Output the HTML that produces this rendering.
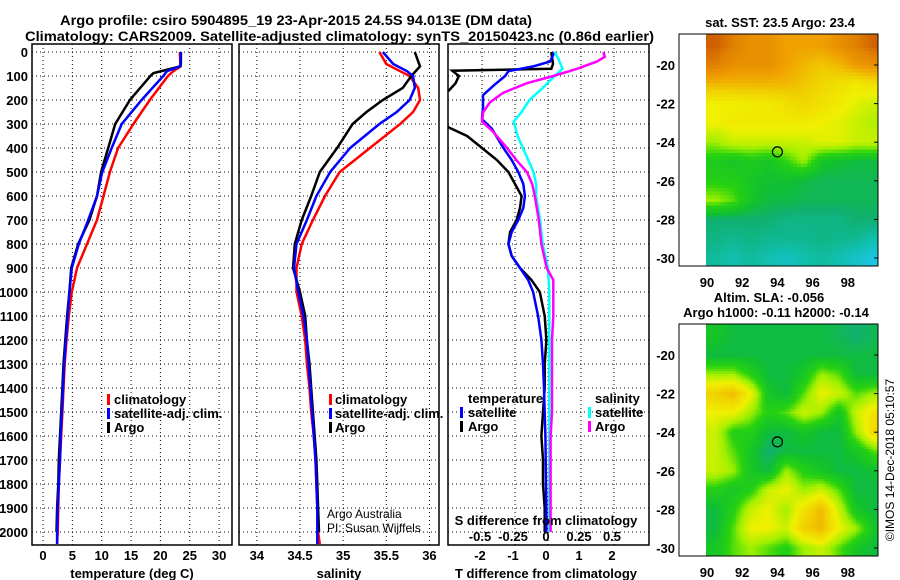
<!DOCTYPE html>
<html><head><meta charset="utf-8">
<style>
html,body{margin:0;padding:0;background:#fff;}
svg{display:block;font-family:"Liberation Sans",sans-serif;}
.b{font-weight:bold;font-size:13px;}
.t{font-weight:bold;font-size:14px;}
</style></head>
<body>
<svg id="chart" width="900" height="580" viewBox="0 0 900 580" xmlns="http://www.w3.org/2000/svg">
<defs>
<clipPath id="c1"><rect x="32" y="44" width="200" height="501"/></clipPath>
<clipPath id="c2"><rect x="239" y="44" width="200" height="501"/></clipPath>
<clipPath id="c3"><rect x="448" y="44" width="201" height="501"/></clipPath>
</defs>
<text class="t" x="60" y="25" textLength="472" lengthAdjust="spacingAndGlyphs">Argo profile: csiro 5904895_19 23-Apr-2015 24.5S 94.013E (DM data)</text>
<text class="t" x="25" y="41" textLength="629" lengthAdjust="spacingAndGlyphs">Climatology: CARS2009. Satellite-adjusted climatology: synTS_20150423.nc (0.86d earlier)</text>
<g id="g"></g>
</svg>
<script>
// ---- data ----
const depthT = [0,50,60,80,100,200,300,400,500,600,700,800,900,1000,1100,1200,1300,1400,1500,1600,1700,1800,1900,2000,2050];
const tempClim = [23.3,23.4,23.4,22.2,21.3,18.2,15.4,12.8,11.4,10.3,9.2,7.5,5.8,4.9,4.4,4.0,3.7,3.5,3.3,3.1,2.9,2.7,2.6,2.5,2.4];
const tempSat = [23.5,23.4,23.3,21.1,20.5,16.8,13.4,11.7,10.1,9.2,7.7,6.1,4.9,4.5,4.2,3.9,3.6,3.4,3.2,3.0,2.9,2.7,2.5,2.4,2.4];
const depthArgo = [0,50,60,88,100,200,300,400,500,600,700,800,900,1000,1100,1200,1300,1400,1500,1600,1700,1800,1900,2000];
const tempArgo = [23.5,23.5,23.4,18.8,18.3,14.8,12.3,11.1,9.9,9.2,7.9,6.0,4.8,4.5,4.1,3.8,3.5,3.3,3.1,2.9,2.7,2.6,2.4,2.3];
const depthS = [0,50,80,100,150,200,250,300,400,500,600,700,800,900,1000,1100,1200,1300,1400,1500,1600,1700,1800,1900,2000,2050];
const salClim = [35.42,35.5,35.66,35.77,35.87,35.89,35.81,35.66,35.31,34.96,34.79,34.65,34.52,34.46,34.46,34.52,34.56,34.58,34.61,34.63,34.66,34.68,34.69,34.7,34.71,34.73];
const salSat = [35.46,35.58,35.74,35.81,35.83,35.77,35.62,35.42,35.08,34.85,34.69,34.58,34.46,34.43,34.48,34.54,34.58,34.6,34.62,34.64,34.66,34.68,34.69,34.7,34.7,34.7];
const depthSA = [0,60,100,150,200,250,300,400,500,600,700,800,900,950,1000,1100,1200,1300,1400,1500,1600,1700,1800,1900,2000];
const salArgo = [35.83,35.89,35.79,35.69,35.46,35.27,35.11,34.93,34.73,34.63,34.52,34.44,34.42,34.46,34.5,34.56,34.58,34.61,34.63,34.65,34.67,34.69,34.7,34.71,34.72];
const depthD = [0,40,60,80,100,140,180,230,280,320,400,450,500,550,600,650,700,750,800,850,900,950,1000,1100,1200,1300,1400,1500,1600,1700,1800,1900,2000];
const tdiffSat = [0.2,0.06,-0.45,-1.2,-1.3,-1.65,-1.97,-1.97,-2.0,-1.7,-1.35,-1.1,-0.9,-0.75,-0.7,-0.75,-0.9,-1.1,-1.2,-1.1,-0.85,-0.6,-0.45,-0.3,-0.2,-0.15,-0.12,-0.1,-0.08,-0.07,-0.06,-0.05,-0.05];
const depthDA = [0,50,70,78,100,130,160,200,280,315,350,400,450,500,550,600,650,700,750,800,850,900,950,1000,1100,1200,1300,1400,1500,1600,1700,1800,1900,2000];
const tdiffArgo = [0.1,0.15,0.1,-2.9,-2.7,-2.8,-3.0,-3.5,-3.3,-3.0,-2.45,-2.0,-1.55,-1.2,-1.0,-0.8,-0.85,-0.95,-1.15,-1.2,-1.1,-0.85,-0.5,-0.25,-0.1,-0.05,-0.1,-0.1,-0.15,-0.2,-0.15,-0.15,-0.1,-0.1];
const depthSD = [0,30,70,100,150,200,250,290,350,400,450,500,550,600,700,800,900,1000,1100,1200,1400,1600,1800,2000];
const sdiffSat = [0.05,0.08,0.11,0.05,-0.04,-0.14,-0.2,-0.26,-0.23,-0.19,-0.15,-0.11,-0.09,-0.09,-0.06,-0.04,0,0.01,0.01,0.01,0.01,0.01,0.01,0.01];
const depthSDA = [0,20,40,70,100,130,170,210,250,290,330,400,450,500,550,600,700,800,900,950,1000,1100,1200,1300,1500,1600,1800,2000];
const sdiffArgo = [0.42,0.43,0.37,0.22,0.04,-0.16,-0.34,-0.44,-0.49,-0.5,-0.42,-0.31,-0.24,-0.16,-0.12,-0.1,-0.07,-0.05,-0.01,0.04,0.04,0.04,0.03,0.03,0.03,0.02,0.02,0.02];
const depthTicks = [0,100,200,300,400,500,600,700,800,900,1000,1100,1200,1300,1400,1500,1600,1700,1800,1900,2000];
const tempTicks = [0,5,10,15,20,25,30];
const salTicks = [34,34.5,35,35.5,36];
const tdTicks = [-2,-1,0,1,2];
const sdTicks = [-0.5,-0.25,0,0.25,0.5];
const sdTickLabels = ["-0.5","-0.25","0","0.25","0.5"];
const lonTicks = [90,92,94,96,98];
const latTicks = [-20,-22,-24,-26,-28,-30];
const sstGrid = [
[0.95,0.9,0.85,0.85,0.8,0.8,0.8,0.85,0.9,0.95],
[0.9,0.85,0.85,0.85,0.8,0.75,0.72,0.75,0.82,0.85],
[0.75,0.75,0.75,0.75,0.75,0.72,0.68,0.65,0.62,0.65],
[0.6,0.6,0.62,0.62,0.65,0.68,0.65,0.62,0.58,0.55],
[0.6,0.62,0.62,0.62,0.62,0.62,0.6,0.58,0.55,0.52],
[0.5,0.55,0.55,0.55,0.55,0.55,0.58,0.58,0.55,0.55],
[0.38,0.35,0.38,0.35,0.42,0.5,0.35,0.32,0.3,0.3],
[0.4,0.4,0.35,0.32,0.32,0.3,0.28,0.28,0.28,0.28],
[0.5,0.45,0.35,0.3,0.3,0.28,0.28,0.28,0.28,0.28],
[0.25,0.25,0.25,0.25,0.22,0.22,0.22,0.22,0.25,0.25],
[0.22,0.2,0.22,0.2,0.2,0.2,0.22,0.2,0.2,0.15],
[0.18,0.15,0.18,0.15,0.12,0.15,0.18,0.15,0.1,0.05]];
const slaGrid = [
[0.35,0.3,0.3,0.3,0.3,0.3,0.3,0.28,0.25,0.28],
[0.3,0.3,0.3,0.3,0.3,0.3,0.3,0.3,0.3,0.3],
[0.5,0.5,0.4,0.3,0.3,0.35,0.5,0.45,0.3,0.3],
[0.7,0.75,0.6,0.35,0.3,0.45,0.6,0.55,0.45,0.5],
[0.6,0.6,0.5,0.4,0.45,0.55,0.5,0.35,0.55,0.65],
[0.55,0.4,0.4,0.3,0.3,0.35,0.3,0.3,0.5,0.68],
[0.55,0.45,0.35,0.25,0.3,0.3,0.3,0.3,0.35,0.45],
[0.55,0.5,0.35,0.3,0.5,0.4,0.35,0.3,0.3,0.32],
[0.4,0.35,0.4,0.55,0.6,0.5,0.55,0.45,0.3,0.3],
[0.3,0.4,0.55,0.6,0.5,0.65,0.75,0.55,0.35,0.3],
[0.3,0.45,0.6,0.6,0.55,0.7,0.75,0.6,0.5,0.35],
[0.35,0.45,0.5,0.45,0.4,0.5,0.55,0.45,0.35,0.3]];
const floatLon = 94.0, floatLat = -24.5;

// ---- helpers ----
const NS="http://www.w3.org/2000/svg";
const G=document.getElementById('g');
function mk(tag,attrs,parent){const e=document.createElementNS(NS,tag);for(const k in attrs)e.setAttribute(k,attrs[k]);(parent||G).appendChild(e);return e;}
const yD = d => 52 + d*0.24;
const xT = t => 43 + t*5.87;
const xS = s => 300 + (s-34.5)*86.3;
const xTD = v => 548 + v*33;
const xSD = v => 548 + v*132;

function panel(x0,x1,name){
  const f=mk('rect',{x:x0,y:44,width:x1-x0,height:501,fill:'none',stroke:'#000','stroke-width':1.5});
  
  
}
function hgrid(x0,x1){
  depthTicks.forEach(d=>{
    const l=mk('line',{x1:x0,x2:x1,y1:yD(d),y2:yD(d),stroke:'#000','stroke-dasharray':'1,3','stroke-width':1});
    
    
  });
}
function vgrid(vals,fx){
  vals.forEach(v=>{
    const l=mk('line',{x1:fx(v),x2:fx(v),y1:44,y2:545,stroke:'#000','stroke-dasharray':'1,3','stroke-width':1});
    
    
  });
}
function line(ds,vs,fx,color,clip,name){
  const pts=ds.map((d,i)=>fx(vs[i]).toFixed(1)+','+yD(d).toFixed(1)).join(' ');
  const p=mk('polyline',{points:pts,fill:'none',stroke:color,'stroke-width':2.5,'clip-path':'url(#'+clip+')'});
  
  
}
function txt(x,y,s,cls,anchor,name,extra){
  const t=mk('text',Object.assign({x:x,y:y,'text-anchor':anchor||'start'},extra||{}));
  if(cls)t.setAttribute('class',cls);
  t.textContent=s;
  
  
  return t;
}
function legBar(x,y,color,name){
  const r=mk('rect',{x:x,y:y-10,width:3,height:11,fill:color});
  
  
}

// ---- panel 1: temperature ----
hgrid(32,232); vgrid(tempTicks,xT);
line(depthT,tempClim,xT,'#ff0000','c1','temp-climatology-line');
line(depthArgo,tempArgo,xT,'#000000','c1','temp-argo-line');
line(depthT,tempSat,xT,'#0000ff','c1','temp-satellite-line');
panel(32,232,'temperature-panel');
depthTicks.forEach(d=>txt(28,yD(d)+5,String(d),'b','end','depth-tick-label'));
tempTicks.forEach(v=>txt(xT(v),560,String(v),'b','middle','temp-tick-label'));
txt(132,578,'temperature (deg C)','b','middle','temp-axis-title');
legBar(107,404,'#ff0000','legend-climatology-swatch'); txt(114,404,'climatology','b','start','legend-climatology');
legBar(107,418,'#0000ff','legend-satellite-swatch'); txt(114,418,'satellite-adj. clim.','b','start','legend-satellite-adj');
legBar(107,432,'#000','legend-argo-swatch'); txt(114,432,'Argo','b','start','legend-argo');

// ---- panel 2: salinity ----
hgrid(239,439); vgrid(salTicks,xS);
line(depthS,salClim,xS,'#ff0000','c2','salinity-climatology-line');
line(depthSA,salArgo,xS,'#000000','c2','salinity-argo-line');
line(depthS,salSat,xS,'#0000ff','c2','salinity-satellite-line');
panel(239,439,'salinity-panel');
salTicks.forEach(v=>txt(xS(v),560,String(v),'b','middle','salinity-tick-label'));
txt(339,578,'salinity','b','middle','salinity-axis-title');
legBar(329,404,'#ff0000','legend2-climatology-swatch'); txt(335,404,'climatology','b','start','legend2-climatology');
legBar(329,418,'#0000ff','legend2-satellite-swatch'); txt(335,418,'satellite-adj. clim.','b','start','legend2-satellite-adj');
legBar(329,432,'#000','legend2-argo-swatch'); txt(335,432,'Argo','b','start','legend2-argo');
txt(327,518,'Argo Australia',null,'start','credit-argo-australia',{'font-size':'12'});
txt(327,532,'PI: Susan Wijffels',null,'start','credit-pi',{'font-size':'12'});

// ---- panel 3: differences ----
hgrid(448,649); vgrid(tdTicks,xTD);
line(depthDA,tdiffArgo,xTD,'#000000','c3','tdiff-argo-line');
line(depthD,tdiffSat,xTD,'#0000ff','c3','tdiff-satellite-line');
line(depthSD,sdiffSat,xSD,'#00ffff','c3','sdiff-satellite-line');
line(depthSDA,sdiffArgo,xSD,'#ff00ff','c3','sdiff-argo-line');
panel(448,649,'difference-panel');
tdTicks.forEach(v=>txt(xTD(v)-2,560,String(v),'b','middle','tdiff-tick-label'));
sdTicks.forEach((v,i)=>txt(xSD(v)-2,541,sdTickLabels[i],'b','middle','sdiff-tick-label'));
txt(546,525,'S difference from climatology','b','middle','sdiff-axis-title');
txt(546,578,'T difference from climatology','b','middle','tdiff-axis-title');
txt(468,403,'temperature','b','start','legend3-temperature-heading');
legBar(460,417,'#0000ff','legend3-tsat-swatch'); txt(468,417,'satellite','b','start','legend3-tsat');
legBar(460,431,'#000','legend3-targo-swatch'); txt(468,431,'Argo','b','start','legend3-targo');
txt(595,403,'salinity','b','start','legend3-salinity-heading');
legBar(588,417,'#00ffff','legend3-ssat-swatch'); txt(595,417,'satellite','b','start','legend3-ssat');
legBar(588,431,'#ff00ff','legend3-sargo-swatch'); txt(595,431,'Argo','b','start','legend3-sargo');

// ---- maps ----
const cstops=[[0.0,[32,200,250]],[0.15,[16,192,176]],[0.25,[16,176,112]],[0.32,[16,192,48]],[0.42,[40,210,16]],[0.5,[160,240,0]],[0.6,[240,240,0]],[0.7,[240,208,0]],[0.8,[240,160,0]],[0.9,[224,128,0]],[1.0,[192,64,0]]];
function cmap(v){
  v=Math.max(0,Math.min(1,v));
  for(let i=1;i<cstops.length;i++){
    if(v<=cstops[i][0]){const a=cstops[i-1],b=cstops[i];const f=(v-a[0])/(b[0]-a[0]);
      return 'rgb('+a[1].map((c,k)=>Math.round(c+(b[1][k]-c)*f)).join(',')+')';}
  }
  return 'rgb(192,64,0)';
}
function sample(grid,r,c){
  const R=grid.length,C=grid[0].length;
  r=Math.max(0,Math.min(R-1,r));c=Math.max(0,Math.min(C-1,c));
  const r0=Math.floor(r),c0=Math.floor(c),r1=Math.min(R-1,r0+1),c1=Math.min(C-1,c0+1),fr=r-r0,fc=c-c0;
  return grid[r0][c0]*(1-fr)*(1-fc)+grid[r0][c1]*(1-fr)*fc+grid[r1][c0]*fr*(1-fc)+grid[r1][c1]*fr*fc;
}
function map(top,bottom,lat20y,grid,cell,name){
  const xL=706,xR=878,fx=lon=>707+(lon-90)*17.6;
  const fy=lat=>lat20y+(-20-lat)*19.3;
  const latOf=y=>-20-(y-lat20y)/19.3;
  const mg=mk('g',{});
  
  
  for(let y=top;y<bottom;y+=cell){
    for(let x=xL;x<xR;x+=cell){
      const lat=latOf(y+cell/2);
      const lon=90+(x+cell/2-707)/17.6;
      const v=sample(grid,(-18.5-lat)-0.5,(lon-90)-0.5);
      const r=mk('rect',{x:x,y:y,width:Math.min(cell,xR-x)+0.3,height:Math.min(cell,bottom-y)+0.3,fill:cmap(v)},mg);
      
      
    }
  }
  const fr=mk('rect',{x:679,y:top,width:199,height:bottom-top,fill:'none',stroke:'#000','stroke-width':1});
  
  
  latTicks.forEach(l=>{
    txt(675,fy(l)+5,String(l),'b','end','map-lat-label');
    const t=mk('line',{x1:874,x2:878,y1:fy(l),y2:fy(l),stroke:'#000'});
    
    
  });
  lonTicks.forEach(l=>txt(fx(l),bottom+21,String(l),'b','middle','map-lon-label'));
  const c=mk('ellipse',{cx:fx(floatLon),cy:fy(floatLat),rx:5,ry:5,fill:'none',stroke:'#000','stroke-width':1.2});
  
  
}
map(34,266,65,sstGrid,3.5,'sst-map');
map(324,556,355,slaGrid,2.5,'sla-map');
txt(780,27,'sat. SST: 23.5 Argo: 23.4','b','middle','sst-map-title');
txt(769,302,'Altim. SLA: -0.056','b','middle','sla-map-title');
txt(776,317,'Argo h1000: -0.11 h2000: -0.14','b','middle','sla-map-subtitle');
txt(0,0,'©IMOS 14-Dec-2018 05:10:57',null,'middle','imos-timestamp',{'font-size':'12',transform:'translate(894,460) rotate(-90)'});
</script>
</body></html>
